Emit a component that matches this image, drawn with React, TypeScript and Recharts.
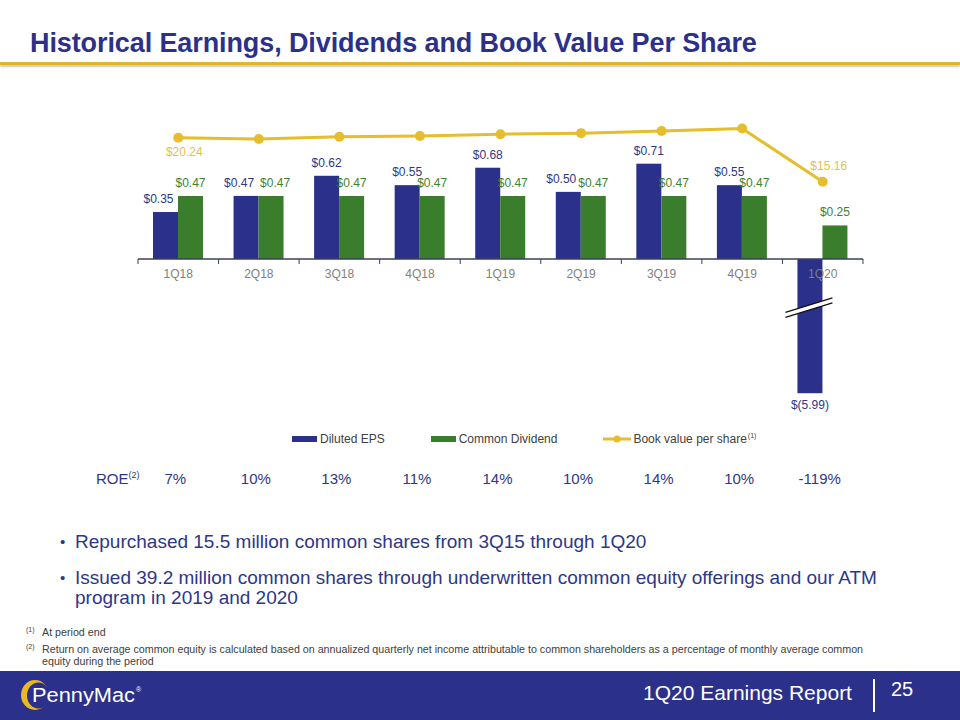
import React from 'react';
import { ComposedChart, Bar, Line, XAxis, YAxis, Legend, LabelList } from 'recharts';

// ---------- data ----------
const quarters = ['1Q18', '2Q18', '3Q18', '4Q18', '1Q19', '2Q19', '3Q19', '4Q19', '1Q20'];
const dilutedEps = [0.35, 0.47, 0.62, 0.55, 0.68, 0.5, 0.71, 0.55, -5.99];
const commonDividend = [0.47, 0.47, 0.47, 0.47, 0.47, 0.47, 0.47, 0.47, 0.25];
const bookValue = [20.24, 20.1, 20.36, 20.44, 20.65, 20.77, 21.02, 21.3, 15.16];
const roe = ['7%', '10%', '13%', '11%', '14%', '10%', '14%', '10%', '-119%'];
const seriesNames = ['Diluted EPS', 'Common Dividend', 'Book value per share'];
const EPS_BREAK_FLOOR = -1.0; // depth at which the broken negative bar is drawn

const chartData = quarters.map((q, i) => ({
  quarter: q,
  eps: dilutedEps[i],
  div: commonDividend[i],
  bv: bookValue[i],
}));

// ---------- styles ----------
const NAVY = '#2B318A';
const NAVY_TEXT = '#2E3787';
const GREEN = '#3A7D2C';
const GREEN_TEXT = '#3E7F30';
const GOLD = '#E5BD2D';
const GOLD_TEXT = '#E2BF4F';
const GREY = '#808080';
const FONT = 'Arial, "Liberation Sans", Helvetica, sans-serif';

const fmt = (v: number) => (v < 0 ? `$(${Math.abs(v).toFixed(2)})` : `$${v.toFixed(2)}`);

const rectOf = (p: any) => {
  const vb = p.viewBox || p;
  const x = vb.x ?? p.x;
  const y = vb.y ?? p.y;
  const w = vb.width ?? p.width ?? 0;
  const h = vb.height ?? p.height ?? 0;
  return { x, w, top: Math.min(y, y + h), bottom: Math.max(y, y + h) };
};

const EpsShape = (props: any) => {
  const { x, y, width, height, fill, payload } = props;
  const top = Math.min(y, y + height);
  const bottom = Math.max(y, y + height);
  const v = payload.eps;
  if (v >= 0) return <rect x={x} y={top} width={width} height={bottom - top} fill={fill} />;
  const perUnit = (bottom - top) / Math.abs(v);
  const shown = perUnit * Math.abs(EPS_BREAK_FLOOR);
  const cy = top + shown * 0.36;
  const x1 = x - 12;
  const x2 = x + width + 10;
  const slope = -0.31;
  const yAt = (xx: number) => cy + (xx - (x + width / 2)) * slope;
  return (
    <g>
      <rect x={x} y={top} width={width} height={shown} fill={fill} />
      <polygon
        points={`${x1},${yAt(x1) - 2.5} ${x2},${yAt(x2) - 2.5} ${x2},${yAt(x2) + 2.5} ${x1},${yAt(x1) + 2.5}`}
        fill="#ffffff"
      />
      <line x1={x1} y1={yAt(x1) - 2.5} x2={x2} y2={yAt(x2) - 2.5} stroke="#111" strokeWidth={1.2} />
      <line x1={x1} y1={yAt(x1) + 2.5} x2={x2} y2={yAt(x2) + 2.5} stroke="#111" strokeWidth={1.2} />
    </g>
  );
};

const EpsLabel = (props: any) => {
  const { index } = props;
  const v = dilutedEps[index];
  const r = rectOf(props);
  const cx = r.x + r.w / 2;
  if (v < 0) {
    const perUnit = (r.bottom - r.top) / Math.abs(v);
    const end = r.top + perUnit * Math.abs(EPS_BREAK_FLOOR);
    return (
      <text x={cx} y={end + 16} textAnchor="middle" fill={NAVY_TEXT} fontSize={12} fontFamily={FONT}>
        {fmt(v)}
      </text>
    );
  }
  const dx = v <= commonDividend[index] + 0.05 ? -7 : 0;
  return (
    <text x={cx + dx} y={r.top - 9} textAnchor="middle" fill={NAVY_TEXT} fontSize={12} fontFamily={FONT}>
      {fmt(v)}
    </text>
  );
};

const DivLabel = (props: any) => {
  const { index } = props;
  const v = commonDividend[index];
  const r = rectOf(props);
  const cx = r.x + r.w / 2;
  const dx = Math.abs(dilutedEps[index] - v) < 0.01 ? 4 : 0;
  return (
    <text x={cx + dx} y={r.top - 9} textAnchor="middle" fill={GREEN_TEXT} fontSize={12} fontFamily={FONT}>
      {fmt(v)}
    </text>
  );
};

const BvLabel = (props: any) => {
  const { index } = props;
  const last = bookValue.length - 1;
  if (index !== 0 && index !== last) return null;
  const vb = props.viewBox || {};
  const x = props.x ?? vb.x;
  const y = props.y ?? vb.y;
  const v = bookValue[index];
  const ty = index === 0 ? y + 18 : y - 12;
  return (
    <text x={x + 6} y={ty} textAnchor="middle" fill={GOLD_TEXT} fontSize={12} fontFamily={FONT}>
      {fmt(v)}
    </text>
  );
};

const AxisTick = (props: any) => {
  const { x, y, payload, width, visibleTicksCount, index } = props;
  const band = width / visibleTicksCount;
  const axisY = y - 10;
  return (
    <g>
      <line x1={x - band / 2} x2={x - band / 2} y1={axisY} y2={axisY + 5} stroke="#3B3F5E" strokeWidth={1} />
      {index === visibleTicksCount - 1 && (
        <line x1={x + band / 2} x2={x + band / 2} y1={axisY} y2={axisY + 5} stroke="#3B3F5E" strokeWidth={1} />
      )}
      <text x={x} y={y} dy="0.71em" textAnchor="middle" fill={GREY} fontSize={12} fontFamily={FONT}>
        {payload.value}
      </text>
    </g>
  );
};

const LegendContent = (props: any) => {
  const payload = [...(props.payload || [])].sort(
    (a: any, b: any) => seriesNames.indexOf(a.value) - seriesNames.indexOf(b.value)
  );
  return (
    <div style={{ display: 'flex', paddingLeft: 292, gap: 46, alignItems: 'center', fontFamily: FONT }}>
      {payload.map((p: any) => (
        <div key={p.value} style={{ display: 'flex', alignItems: 'center', fontSize: 12, color: '#404040' }}>
          {p.type === 'line' ? (
            <svg width={28} height={10} style={{ marginRight: 2 }}>
              <line x1={0} x2={28} y1={5} y2={5} stroke={GOLD} strokeWidth={3} />
              <circle cx={14} cy={5} r={3.5} fill={GOLD} />
            </svg>
          ) : (
            <div style={{ width: 25, height: 6, background: p.color, marginRight: 3 }} />
          )}
          <span>{p.value}</span>
          {p.type === 'line' && <sup style={{ fontSize: 7, marginLeft: 1, alignSelf: 'flex-start' }}>(1)</sup>}
        </div>
      ))}
    </div>
  );
};

export default function App() {
  const plotLeft = 138;
  const plotRight = 863;
  const band = (plotRight - plotLeft) / quarters.length;
  return (
    <div style={{ position: 'relative', width: 960, height: 720, background: '#fff', fontFamily: FONT, overflow: 'hidden' }}>
      <style>{`
        body { margin: 0; }
        .eps-chart .recharts-bar-rectangles, .eps-chart .recharts-bar g[clip-path] { clip-path: none !important; }
      `}</style>

      {/* Title */}
      <div style={{ position: 'absolute', left: 30, top: 28, fontSize: 27, fontWeight: 'bold', color: NAVY, whiteSpace: 'nowrap', letterSpacing: -0.1 }}>
        Historical Earnings, Dividends and Book Value Per Share
      </div>
      <div style={{ position: 'absolute', left: 0, top: 62, width: 960, height: 3, background: '#DDB62F', boxShadow: '0 2px 2px rgba(0,0,0,0.22)' }} />

      {/* Chart */}
      <div className="eps-chart" style={{ position: 'absolute', left: 0, top: 0 }}>
        <ComposedChart
          width={960}
          height={470}
          data={chartData}
          margin={{ top: 110, right: 960 - plotRight, left: plotLeft, bottom: 181 }}
          barGap={0}
          barSize={25}
        >
          <XAxis
            dataKey="quarter"
            interval={0}
            tickSize={5}
            tickMargin={5}
            tickLine={false}
            axisLine={{ stroke: '#3B3F5E', strokeWidth: 1.5 }}
            tick={<AxisTick />}
          />
          <YAxis yAxisId="eps" hide domain={[0, 1.11]} allowDataOverflow />
          <YAxis yAxisId="bv" hide orientation="right" domain={[6.24, 23.44]} />
          <Legend
            layout="horizontal"
            verticalAlign="middle"
            align="center"
            wrapperStyle={{ top: 432, left: 0, width: 960 }}
            content={<LegendContent />}
          />
          <Bar yAxisId="eps" dataKey="eps" name={seriesNames[0]} fill={NAVY} shape={<EpsShape />} isAnimationActive={false} legendType="rect">
            <LabelList dataKey="eps" content={<EpsLabel />} />
          </Bar>
          <Bar yAxisId="eps" dataKey="div" name={seriesNames[1]} fill={GREEN} isAnimationActive={false} legendType="rect">
            <LabelList dataKey="div" content={<DivLabel />} />
          </Bar>
          <Line
            yAxisId="bv"
            dataKey="bv"
            name={seriesNames[2]}
            stroke={GOLD}
            strokeWidth={3}
            dot={{ r: 5, fill: GOLD, stroke: GOLD, strokeWidth: 0 }}
            isAnimationActive={false}
            legendType="line"
          >
            <LabelList dataKey="bv" content={<BvLabel />} />
          </Line>
        </ComposedChart>
      </div>

      {/* ROE row */}
      <div style={{ position: 'absolute', left: 96, top: 470, fontSize: 15, color: NAVY_TEXT, whiteSpace: 'nowrap' }}>
        ROE<sup style={{ fontSize: 9 }}>(2)</sup>
      </div>
      {roe.map((r, i) => (
        <div
          key={quarters[i]}
          style={{
            position: 'absolute',
            left: plotLeft + band * (i + 0.5) - 3 - 40,
            width: 80,
            top: 470,
            textAlign: 'center',
            fontSize: 15,
            color: NAVY_TEXT,
          }}
        >
          {r}
        </div>
      ))}

      {/* Bullets */}
      <div style={{ position: 'absolute', left: 60, top: 532, fontSize: 19, color: NAVY_TEXT, lineHeight: '20px' }}>
        <div style={{ position: 'relative', paddingLeft: 15, whiteSpace: 'nowrap' }}>
          <span style={{ position: 'absolute', left: 0, fontSize: 15 }}>•</span>
          Repurchased 15.5 million common shares from 3Q15 through 1Q20
        </div>
        <div style={{ position: 'relative', paddingLeft: 15, marginTop: 16, whiteSpace: 'nowrap' }}>
          <span style={{ position: 'absolute', left: 0, fontSize: 15 }}>•</span>
          Issued 39.2 million common shares through underwritten common equity offerings and our ATM
          <br />
          program in 2019 and 2020
        </div>
      </div>

      {/* Footnotes */}
      <div style={{ position: 'absolute', left: 26, top: 626, fontSize: 10.7, color: '#404040', lineHeight: '12px' }}>
        <div style={{ position: 'relative', paddingLeft: 16, whiteSpace: 'nowrap' }}>
          <span style={{ position: 'absolute', left: 0, top: -2, fontSize: 7 }}>(1)</span>
          At period end
        </div>
        <div style={{ position: 'relative', paddingLeft: 16, marginTop: 5, whiteSpace: 'nowrap' }}>
          <span style={{ position: 'absolute', left: 0, top: -2, fontSize: 7 }}>(2)</span>
          Return on average common equity is calculated based on annualized quarterly net income attributable to common shareholders as a percentage of monthly average common
          <br />
          equity during the period
        </div>
      </div>

      {/* Footer */}
      <div style={{ position: 'absolute', left: 0, top: 671, width: 960, height: 49, background: NAVY }} />
      <svg style={{ position: 'absolute', left: 0, top: 671 }} width={160} height={49}>
        <ellipse cx={35} cy={24} rx={14} ry={15} fill="#E8B923" />
        <ellipse cx={38.5} cy={24.5} rx={11.5} ry={13} fill={NAVY} />
        <text x={32} y={31} fill="#fff" fontSize={20} fontFamily={FONT} textLength={103} lengthAdjust="spacingAndGlyphs">
          PennyMac
        </text>
        <text x={136} y={21} fill="#fff" fontSize={7} fontFamily={FONT}>
          ®
        </text>
      </svg>
      <div style={{ position: 'absolute', left: 643, top: 681, fontSize: 21, color: '#fff', whiteSpace: 'nowrap' }}>
        1Q20 Earnings Report
      </div>
      <div style={{ position: 'absolute', left: 873, top: 679, width: 2, height: 33, background: '#fff' }} />
      <div style={{ position: 'absolute', left: 891, top: 678, fontSize: 20, color: '#fff' }}>25</div>
    </div>
  );
}
